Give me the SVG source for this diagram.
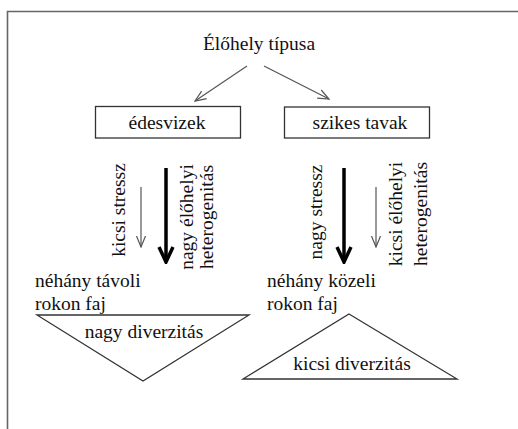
<svg xmlns="http://www.w3.org/2000/svg" width="518" height="429" viewBox="0 0 518 429" font-family="'Liberation Serif', 'Times New Roman', 'DejaVu Serif', serif" font-size="20">
<defs>
<style>
text{font-family:'Liberation Serif','Times New Roman','DejaVu Serif',serif;font-size:19.5px;fill:#111}
.box{fill:#fff;stroke:#333;stroke-width:1.3}
.tri{fill:#fff;stroke:#333;stroke-width:1.3}
.thin{stroke:#555;stroke-width:1.2;fill:none}
.thick{stroke:#000;stroke-width:3.5;fill:none}
</style>
<marker id="hthin" markerUnits="userSpaceOnUse" viewBox="0 0 12 12" markerWidth="12" markerHeight="12" refX="11" refY="6" orient="auto">
<path d="M0,1.5 L11,6 L0,10.5" fill="none" stroke="#555" stroke-width="1.2"/>
</marker>
<marker id="hthick" markerUnits="userSpaceOnUse" viewBox="0 0 18 18" markerWidth="18" markerHeight="18" refX="16" refY="9" orient="auto">
<path d="M1,2 L16,9 L1,16" fill="none" stroke="#000" stroke-width="3.5" stroke-linejoin="miter"/>
</marker>
</defs>
<rect width="518" height="429" fill="#fff"/>
<path d="M7.5,429 L7.5,11.5 L518,11.5" fill="none" stroke="#666" stroke-width="1.6"/>
<g id="title"><text x="259" y="50" text-anchor="middle">Élőhely típusa</text></g>
<g id="edesvizek"><rect class="box" x="95.5" y="106.5" width="145" height="31.5"/><text x="167" y="129" text-anchor="middle">édesvizek</text></g>
<g id="szikes"><rect class="box" x="284.5" y="107" width="145" height="31"/><text x="360" y="129" text-anchor="middle">szikes tavak</text></g>
<g id="labels-left">
<text transform="translate(125,210) rotate(-90)" text-anchor="middle">kicsi stressz</text>
<text transform="translate(193,217) rotate(-90)" text-anchor="middle">nagy élőhelyi</text>
<text transform="translate(213,217) rotate(-90)" text-anchor="middle">heterogenitás</text>
</g>
<g id="labels-right">
<text transform="translate(322,212) rotate(-90)" text-anchor="middle">nagy stressz</text>
<text transform="translate(402,214) rotate(-90)" text-anchor="middle">kicsi élőhelyi</text>
<text transform="translate(427,214) rotate(-90)" text-anchor="middle">heterogenitás</text>
</g>
<g id="tavoli"><text x="35" y="287">néhány távoli</text><text x="35" y="310">rokon faj</text></g>
<g id="kozeli"><text x="267" y="287">néhány közeli</text><text x="267" y="310">rokon faj</text></g>
<g id="nagy-div"><polygon class="tri" points="37,315 249,315 143,381"/><text x="144" y="338" text-anchor="middle">nagy diverzitás</text></g>
<g id="kicsi-div"><polygon class="tri" points="349,314 457,379 243,379"/><text x="352" y="370" text-anchor="middle">kicsi diverzitás</text></g>
<g id="connectors">
<line class="thin" x1="247" y1="66" x2="195" y2="101" marker-end="url(#hthin)"/>
<line class="thin" x1="264" y1="66" x2="329" y2="99" marker-end="url(#hthin)"/>
<line class="thin" x1="141" y1="187" x2="141" y2="247" marker-end="url(#hthin)"/>
<line class="thick" x1="166" y1="168" x2="166" y2="262" marker-end="url(#hthick)"/>
<line class="thick" x1="344" y1="168" x2="344" y2="262" marker-end="url(#hthick)"/>
<line class="thin" x1="376" y1="187" x2="376" y2="247" marker-end="url(#hthin)"/>
</g>
</svg>
